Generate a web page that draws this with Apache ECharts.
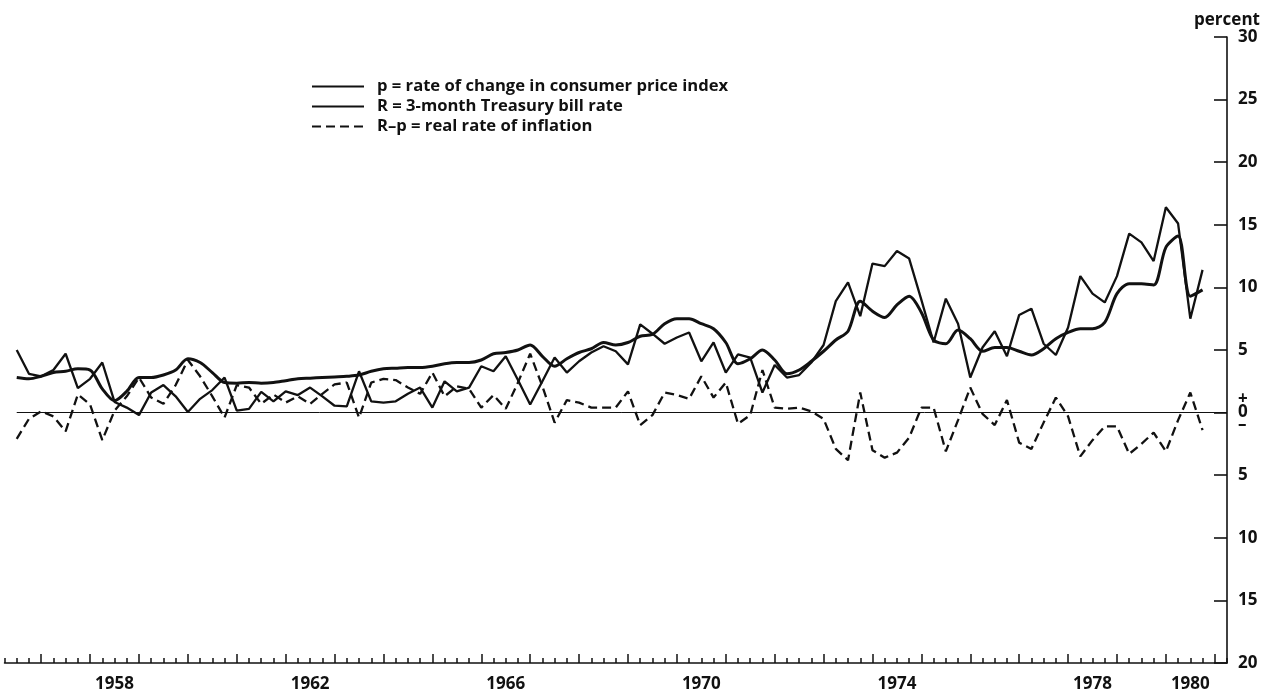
<!DOCTYPE html>
<html>
<head>
<meta charset="utf-8">
<title>Inflation and the Treasury bill rate, 1956-1980</title>
<script src="https://cdn.jsdelivr.net/npm/echarts@6/dist/echarts.min.js"></script>
<style>
  html, body { margin: 0; padding: 0; background: #fff; }
  #chart { width: 1268px; height: 697px; }
</style>
</head>
<body>
<div id="chart"></div>
<script>
const p = [
  5.0, 3.1, 2.9, 3.4, 4.7, 1.95, 2.7, 4.0, 0.85, 0.4,
  -0.2, 1.6, 2.2, 1.3, 0.05, 1.1, 1.8, 2.8, 0.15, 0.3,
  1.65, 0.9, 1.7, 1.4, 2.0, 1.3, 0.55, 0.5, 3.3, 0.9,
  0.8, 0.9, 1.5, 2.0, 0.4, 2.5, 1.7, 2.0, 3.7, 3.3,
  4.5, 2.6, 0.65, 2.5, 4.4, 3.2, 4.1, 4.8, 5.3, 4.9,
  3.85, 7.05, 6.3, 5.5, 6.0, 6.4, 4.1, 5.6, 3.2, 4.65,
  4.4, 1.6, 3.8, 2.8, 3.0, 4.0, 5.4, 8.9, 10.4, 7.7,
  11.9, 11.7, 12.9, 12.3, 9.0, 5.6, 9.1, 7.1, 2.8, 5.2,
  6.5, 4.5, 7.8, 8.3, 5.5, 4.6, 6.8, 10.9, 9.5, 8.8,
  10.9, 14.3, 13.6, 12.1, 16.4, 15.1, 7.5, 11.4
];
const R = [
  2.8, 2.7, 2.9, 3.2, 3.3, 3.5, 3.4, 1.9, 0.95, 1.7,
  2.8, 2.8, 3.0, 3.4, 4.3, 4.0, 3.2, 2.4, 2.35, 2.4,
  2.35, 2.4, 2.55, 2.7, 2.75, 2.8, 2.85, 2.9, 3.0, 3.3,
  3.5, 3.55, 3.6, 3.6, 3.7, 3.9, 4.0, 4.0, 4.2, 4.7,
  4.8, 5.0, 5.4, 4.5, 3.7, 4.3, 4.8, 5.1, 5.6, 5.4,
  5.6, 6.1, 6.25, 7.1, 7.5, 7.5, 7.1, 6.7, 5.6, 3.9,
  4.3, 5.0, 4.2, 3.1, 3.4, 4.1, 4.9, 5.8, 6.5, 8.9,
  8.1, 7.6, 8.6, 9.3, 8.0, 5.8, 5.5, 6.6, 5.9, 4.9,
  5.2, 5.2, 4.9, 4.6, 5.1, 5.9, 6.4, 6.7, 6.7, 7.2,
  9.5, 10.3, 10.3, 10.2, 13.2, 14.1, 9.3, 9.8
];
const realRate = [
  -2.1, -0.5, 0.1, -0.3, -1.5, 1.45, 0.65, -2.2, 0.15, 1.3,
  2.8, 1.2, 0.7, 2.2, 4.2, 2.9, 1.3, -0.4, 2.2, 2.0,
  0.7, 1.45, 0.8, 1.3, 0.7, 1.5, 2.25, 2.4, -0.4, 2.4,
  2.7, 2.6, 2.0, 1.5, 3.2, 1.3, 2.1, 1.9, 0.4, 1.4,
  0.3, 2.4, 4.7, 2.1, -0.8, 1.0, 0.8, 0.4, 0.4, 0.4,
  1.7, -1.0, -0.2, 1.6, 1.4, 1.1, 2.9, 1.2, 2.4, -0.9,
  -0.2, 3.4, 0.4, 0.3, 0.4, 0.1, -0.5, -2.9, -3.8, 1.6,
  -3.0, -3.6, -3.2, -2.0, 0.4, 0.4, -3.1, -0.6, 2.0, -0.1,
  -1.0, 1.0, -2.4, -2.9, -0.8, 1.2, -0.3, -3.5, -2.2, -1.1,
  -1.1, -3.3, -2.5, -1.6, -3.1, -0.6, 1.6, -1.4
];

const seriesNames = [
  'p = rate of change in consumer price index',
  'R = 3-month Treasury bill rate',
  'R\u2013p = real rate of inflation'
];
const yearLabels = ['1958', '1962', '1966', '1970', '1974', '1978', '1980'];

// axis runs one quarter before the data and two after it
const axisStart = 1956.25;
const quarterCount = 101;
const quarters = [];
for (let k = 0; k < quarterCount; k++) {
  const t = axisStart + k * 0.25;
  const year = Math.floor(t + 1e-9);
  const q = Math.round((t - year) * 4) + 1;
  quarters.push(year + ' Q' + q);
}
const pad = arr => [null].concat(arr, [null, null]);

const font = { fontFamily: 'Open Sans', fontWeight: 'bold', fontSize: 17, color: '#111' };
const ink = '#111';
const plotBox = { left: 4.5, right: 41, top: 37, bottom: 34 };

const chart = echarts.init(document.getElementById('chart'), null, { renderer: 'canvas' });

chart.setOption({
  animation: false,
  backgroundColor: '#fff',
  // second grid sits on the first one and only carries the yearly ticks
  grid: [Object.assign({}, plotBox), Object.assign({}, plotBox)],
  legend: {
    orient: 'vertical',
    left: 306,
    top: 73,
    itemWidth: 52,
    itemHeight: 14,
    itemGap: 3,
    selectedMode: false,
    itemStyle: { color: 'rgba(0,0,0,0)', borderWidth: 0, opacity: 0 },
    textStyle: Object.assign({}, font, { fontSize: 16.6, padding: [0, 0, 0, 8] }),
    data: seriesNames
  },
  xAxis: [
    {
      type: 'category',
      gridIndex: 0,
      data: quarters,
      boundaryGap: false,
      axisLine: { onZero: false, lineStyle: { color: ink, width: 1.5 } },
      axisTick: { interval: 0, inside: true, length: 5, lineStyle: { color: ink, width: 1.5 } },
      axisLabel: { show: false },
      splitLine: { show: false }
    },
    {
      type: 'category',
      gridIndex: 1,
      data: quarters,
      boundaryGap: false,
      position: 'bottom',
      axisLine: { show: false, onZero: false },
      axisTick: {
        inside: true, length: 9,
        interval: (i, v) => v.endsWith('Q1'),
        lineStyle: { color: ink, width: 1.5 }
      },
      axisLabel: Object.assign({}, font, {
        margin: 13,
        interval: (i, v) => v.endsWith('Q3') && yearLabels.includes(v.slice(0, 4)),
        formatter: v => v.slice(0, 4)
      }),
      splitLine: { show: false }
    }
  ],
  yAxis: [
    {
      type: 'value',
      gridIndex: 0,
      position: 'right',
      min: -20,
      max: 30,
      interval: 5,
      name: 'percent',
      nameLocation: 'end',
      nameGap: 8,
      nameTextStyle: Object.assign({}, font, { align: 'center' }),
      axisLine: { show: true, onZero: false, lineStyle: { color: ink, width: 1.6 } },
      axisTick: { show: true, inside: true, length: 13, lineStyle: { color: ink, width: 1.6 } },
      splitLine: { show: false },
      axisLabel: Object.assign({}, font, {
        margin: 11,
        formatter: v => v === 0 ? '{s|+}\n{s|0}\n{s|\u2013}' : String(Math.abs(v)),
        rich: { s: Object.assign({}, font, { lineHeight: 13 }) }
      })
    },
    {
      type: 'value',
      gridIndex: 1,
      min: -20,
      max: 30,
      interval: 5,
      show: false
    }
  ],
  series: [
    {
      name: seriesNames[0],
      type: 'line',
      data: pad(p),
      symbol: 'none',
      lineStyle: { color: ink, width: 2.3 },
      itemStyle: { color: ink }
    },
    {
      name: seriesNames[1],
      type: 'line',
      data: pad(R),
      symbol: 'none',
      smooth: 0.3,
      lineStyle: { color: ink, width: 3 },
      itemStyle: { color: ink }
    },
    {
      name: seriesNames[2],
      type: 'line',
      data: pad(realRate),
      symbol: 'none',
      lineStyle: { color: ink, width: 2.3, type: [9, 5] },
      itemStyle: { color: ink },
      markLine: {
        silent: true,
        symbol: 'none',
        label: { show: false },
        lineStyle: { color: ink, width: 1, type: 'solid' },
        data: [[{ coord: [quarters[1], 0] }, { coord: [quarters[quarterCount - 1], 0] }]]
      }
    }
  ]
});
</script>
</body>
</html>
